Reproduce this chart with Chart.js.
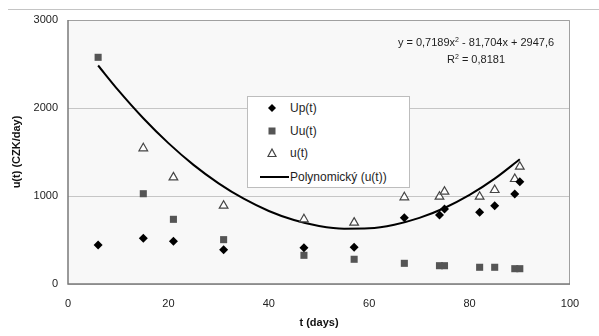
<!DOCTYPE html>
<html>
<head>
<meta charset="utf-8">
<script src="https://cdn.jsdelivr.net/npm/chart.js@4.4.0/dist/chart.umd.min.js"></script>
<style>
  body { margin: 0; background: #fff; font-family: 'Liberation Sans', Arial, sans-serif; }
  .wrap { position: relative; width: 599px; height: 336px; overflow: hidden; }
  .rule { position: absolute; left: 8px; right: 0; top: 9px; border-top: 1px solid #c4c4c4; }
  .eq { position: absolute; left: 376px; width: 200px; top: 34px; text-align: center; font-size: 11px; line-height: 17px; color: #1e1e1e; }
  .legend { position: absolute; left: 247px; top: 96px; width: 161px; height: 90px; background: #fff; border: 1px solid #bdbdbd; font-size: 12px; color: #1e1e1e; }
  .legend .row { position: absolute; left: 0; height: 16px; line-height: 16px; }
  .legend .row span { position: absolute; left: 42px; white-space: nowrap; }
  .legend svg { position: absolute; left: 10px; top: 0; }
</style>
</head>
<body>
<div class="wrap">
  <canvas id="chart"></canvas>
  <div class="rule"></div>
  <div class="eq">y = 0,7189x<sup style="font-size:7px;vertical-align:4px;line-height:0">2</sup> - 81,704x + 2947,6<br>R<sup style="font-size:7px;vertical-align:4px;line-height:0">2</sup> = 0,8181</div>
  <div class="legend">
    <div class="row" style="top:3px"><svg width="32" height="16"><path d="M14 4 L18 8 L14 12 L10 8 Z" fill="#000"/></svg><span>Up(t)</span></div>
    <div class="row" style="top:26px"><svg width="32" height="16"><rect x="10.5" y="4.5" width="7" height="7" fill="#555"/></svg><span>Uu(t)</span></div>
    <div class="row" style="top:48px"><svg width="32" height="16"><path d="M14 4 L18 11.5 L10 11.5 Z" fill="#fff" stroke="#444" stroke-width="1.2"/></svg><span>u(t)</span></div>
    <div class="row" style="top:72px"><svg width="32" height="16"><line x1="2" y1="8" x2="31" y2="8" stroke="#000" stroke-width="2"/></svg><span>Polynomický (u(t))</span></div>
  </div>
</div>
<script>
// values
const days = [6, 15, 21, 31, 47, 57, 67, 74, 75, 82, 85, 89, 90];
const upValues = [443, 519, 485, 390, 413, 417, 754, 784, 852, 815, 890, 1023, 1163];
const uuValues = [2576, 1026, 735, 504, 326, 281, 235, 208, 208, 190, 190, 174, 174];
const uValues = [null, 1542, 1212, 890, 735, 697, 985, 992, 1049, 992, 1068, 1193, 1333];

// polynomial trend line
const trendDays = [6, 10, 15, 20, 25, 30, 35, 40, 45, 50, 55, 60, 65, 70, 75, 80, 85, 90];
const trendValues = [2483, 2203, 1884, 1601, 1354, 1144, 969, 830, 727, 660, 629, 633, 674, 751, 864, 1012, 1197, 1417];

const xTicks = [0, 20, 40, 60, 80, 100];
const yTicks = [0, 1000, 2000, 3000];

const toPoints = (xs, ys) => xs.map((x, i) => ({ x: x, y: ys[i] }));

Chart.defaults.font.family = "'Liberation Sans', Arial, sans-serif";
Chart.defaults.font.size = 11;
Chart.defaults.color = '#222';

// plot area fill and frame
const plotFrame = {
  id: 'plotFrame',
  beforeDraw(chart) {
    const { ctx, chartArea: a } = chart;
    ctx.save();
    ctx.fillStyle = '#f8f8f8';
    ctx.fillRect(a.left, a.top, a.right - a.left, a.bottom - a.top);
    ctx.restore();
  },
  afterDraw(chart) {
    const { ctx, chartArea: a } = chart;
    ctx.save();
    ctx.lineWidth = 1;
    ctx.strokeStyle = '#a0a0a0';
    ctx.beginPath();
    ctx.moveTo(a.left, a.top + 0.5);
    ctx.lineTo(a.right - 0.5, a.top + 0.5);
    ctx.lineTo(a.right - 0.5, a.bottom);
    ctx.stroke();
    ctx.strokeStyle = '#7a7a7a';
    ctx.lineWidth = 1.5;
    ctx.beginPath();
    ctx.moveTo(a.left, a.top);
    ctx.lineTo(a.left, a.bottom);
    ctx.lineTo(a.right, a.bottom);
    ctx.stroke();
    ctx.restore();
  }
};

new Chart(document.getElementById('chart'), {
  type: 'scatter',
  data: {
    datasets: [
      {
        label: 'Up(t)',
        data: toPoints(days, upValues),
        pointStyle: 'rectRot',
        pointRadius: 4.5,
        backgroundColor: '#000',
        borderColor: '#000',
        borderWidth: 0,
        order: 1
      },
      {
        label: 'Uu(t)',
        data: toPoints(days, uuValues),
        pointStyle: 'rect',
        pointRadius: 5,
        backgroundColor: '#555',
        borderColor: '#555',
        borderWidth: 0,
        order: 2
      },
      {
        label: 'u(t)',
        data: toPoints(days, uValues),
        pointStyle: 'triangle',
        pointRadius: 5,
        backgroundColor: '#fff',
        borderColor: '#444',
        borderWidth: 1.2,
        order: 3
      },
      {
        label: 'Polynomický (u(t))',
        type: 'line',
        data: toPoints(trendDays, trendValues),
        borderColor: '#000',
        borderWidth: 2,
        pointRadius: 0,
        tension: 0.4,
        cubicInterpolationMode: 'monotone',
        fill: false,
        order: 4
      }
    ]
  },
  options: {
    responsive: true,
    maintainAspectRatio: false,
    animation: false,
    layout: { padding: { left: 0, right: 29, top: 20, bottom: 0 } },
    plugins: { legend: { display: false }, tooltip: { enabled: false } },
    scales: {
      x: {
        type: 'linear',
        min: 0,
        max: 100,
        afterBuildTicks: s => { s.ticks = xTicks.map(v => ({ value: v })); },
        afterFit: s => { s.height = 52; },
        grid: { display: false, drawTicks: false },
        border: { display: false },
        ticks: { padding: 13, color: '#222', callback: v => String(v) },
        title: { display: true, text: 't (days)', font: { weight: 'bold', size: 11 }, color: '#111', padding: { top: 0, bottom: 6 } }
      },
      y: {
        type: 'linear',
        min: 0,
        max: 3000,
        afterBuildTicks: s => { s.ticks = yTicks.map(v => ({ value: v })); },
        afterFit: s => { s.width = 68; },
        grid: { color: '#c6c6c6', drawTicks: false },
        border: { display: false },
        ticks: { padding: 10, color: '#222', callback: v => String(v) },
        title: { display: true, text: 'u(t) (CZK/day)', font: { weight: 'bold', size: 11 }, color: '#111', padding: { top: 10, bottom: 0 } }
      }
    }
  },
  plugins: [plotFrame]
});
</script>
</body>
</html>
